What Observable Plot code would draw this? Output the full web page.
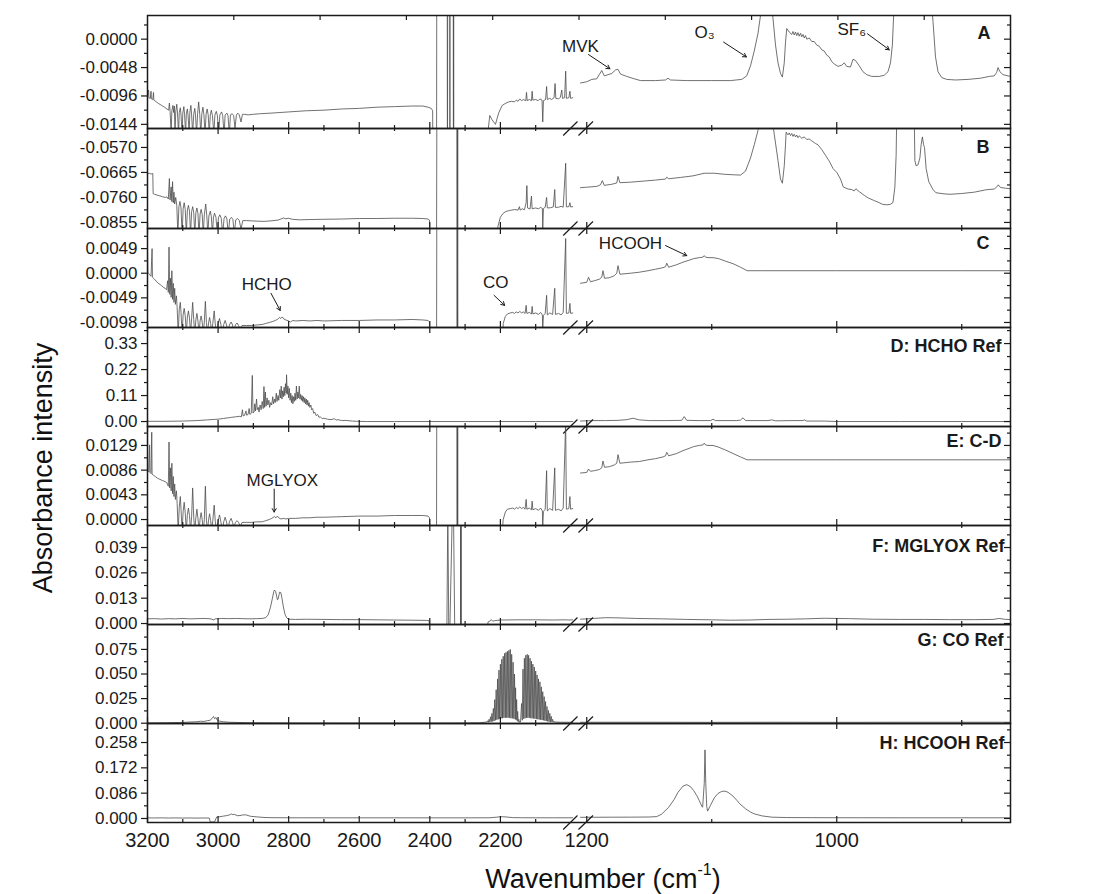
<!DOCTYPE html>
<html><head><meta charset="utf-8">
<script src="https://cdn.jsdelivr.net/npm/d3@7"></script>
<script src="https://cdn.jsdelivr.net/npm/@observablehq/plot@0.6"></script>
<style>
body{margin:0;background:#fff;}
#chart{position:relative;width:1098px;height:894px;font-family:"Liberation Sans",Arial,sans-serif;color:#111;}
#chart svg{position:absolute;left:0;overflow:visible;}
.ytitle{position:absolute;left:43px;top:468px;transform:translate(-50%,-50%) rotate(-90deg);font-size:27px;line-height:1;white-space:nowrap;}
.xtitle{position:absolute;left:603px;top:865px;transform:translateX(-50%);font-size:27px;line-height:1;white-space:nowrap;}
.xtitle sup{font-size:16px;position:relative;top:-3px;}
</style></head>
<body><div id="chart"><div class="ytitle">Absorbance intensity</div><div class="xtitle">Wavenumber (cm<sup>-1</sup>)</div></div>
<script>
// ---------------- DATA ----------------
// x tick values / labels
const X_LABELS_LEFT = [3200, 3000, 2800, 2600, 2400, 2200];
const X_LABELS_RIGHT = [1200, 1000];
const X_MAJOR = [3200, 3000, 2800, 2600, 2400, 2200, 1200, 1000];
const X_MINOR = [3100, 2900, 2700, 2500, 2300, 2100, 1100, 900];
const A_TOP_TICKS = [1, 2, 3, 4, 5, 6, 7, 8, 9];

// y ticks per panel
const A_TICKS = [0.0000, -0.0048, -0.0096, -0.0144];
const A_TICK_LABELS = ["0.0000", "-0.0048", "-0.0096", "-0.0144"];
const A_MINOR = [0.0024, -0.0024, -0.0072, -0.0120];
const B_TICKS = [-0.0570, -0.0665, -0.0760, -0.0855];
const B_TICK_LABELS = ["-0.0570", "-0.0665", "-0.0760", "-0.0855"];
const B_MINOR = [-0.05225, -0.06175, -0.07125, -0.08075];
const C_TICKS = [0.0049, 0.0000, -0.0049, -0.0098];
const C_TICK_LABELS = ["0.0049", "0.0000", "-0.0049", "-0.0098"];
const C_MINOR = [0.00735, 0.00245, -0.00245, -0.00735];
const D_TICKS = [0.33, 0.22, 0.11, 0.00];
const D_TICK_LABELS = ["0.33", "0.22", "0.11", "0.00"];
const D_MINOR = [0.385, 0.275, 0.165, 0.055];
const E_TICKS = [0.0129, 0.0086, 0.0043, 0.0000];
const E_TICK_LABELS = ["0.0129", "0.0086", "0.0043", "0.0000"];
const E_MINOR = [0.01505, 0.01075, 0.00645, 0.00215];
const F_TICKS = [0.039, 0.026, 0.013, 0.000];
const F_TICK_LABELS = ["0.039", "0.026", "0.013", "0.000"];
const F_MINOR = [0.0455, 0.0325, 0.0195, 0.0065];
const G_TICKS = [0.075, 0.050, 0.025, 0.000];
const G_TICK_LABELS = ["0.075", "0.050", "0.025", "0.000"];
const G_MINOR = [0.0875, 0.0625, 0.0375, 0.0125];
const H_TICKS = [0.258, 0.172, 0.086, 0.000];
const H_TICK_LABELS = ["0.258", "0.172", "0.086", "0.000"];
const H_MINOR = [0.301, 0.215, 0.129, 0.043];

// spectra: [wavenumber, absorbance]
const A_LEFT = [[3200,-0.0098],[3197,-0.0086],[3196,-0.0099],[3192,-0.0100],[3190,-0.0088],[3189,-0.0101],[3185,-0.0102],[3183,-0.0090],[3182,-0.0103],[3175,-0.0106],[3168,-0.0109],[3160,-0.0112],[3152,-0.0115],[3145,-0.0118],
[3140,-0.0120],[3138,-0.0108],[3136,-0.0122],[3133,-0.0160],[3131,-0.0121],[3128,-0.0112],[3126,-0.0124],[3124,-0.0113],[3122,-0.0160],[3120,-0.0123],[3117,-0.0110],[3115,-0.0125],[3112,-0.0160],[3110,-0.0124],[3107,-0.0116],[3105,-0.0128],[3102,-0.0160],[3100,-0.0125],[3097,-0.0114],[3095,-0.0127],[3092,-0.0160],[3090,-0.0126],[3087,-0.0118],[3085,-0.0129],[3082,-0.0160],[3080,-0.0124],[3077,-0.0112],[3075,-0.0128],[3072,-0.0160],[3069,-0.0127],[3066,-0.0117],[3064,-0.0128],[3061,-0.0160],[3058,-0.0126],[3055,-0.0106],[3052,-0.0127],[3049,-0.0160],[3046,-0.0126],[3043,-0.0115],[3040,-0.0128],[3037,-0.0160],[3034,-0.0127],[3031,-0.0118],[3028,-0.0128],[3025,-0.0160],[3022,-0.0128],[3019,-0.0120],[3016,-0.0129],[3012,-0.0160],[3009,-0.0128],[3005,-0.0122],[3002,-0.0129],[2998,-0.0160],[2995,-0.0128],[2990,-0.0123],[2987,-0.0129],[2983,-0.0160],[2980,-0.0128],[2975,-0.0125],[2972,-0.0129],[2968,-0.0160],[2965,-0.0128],[2960,-0.0126],[2956,-0.0129],[2952,-0.0150],[2948,-0.0128],[2944,-0.0125],[2940,-0.0128],[2935,-0.0140],[2931,-0.0127],[2925,-0.0127],[2915,-0.0128],[2900,-0.0127],[2880,-0.0126],[2850,-0.0125],[2800,-0.0123],[2750,-0.0121],[2700,-0.0120],[2650,-0.0118],[2600,-0.0117],[2550,-0.0115],[2500,-0.0114],[2450,-0.0113],[2420,-0.0113],[2405,-0.0115],[2396,-0.0117],[2392,-0.0121],[2390,-0.0300],[2381,-0.0300],[2380,0.0300],[2351,0.0300],[2350,-0.0300],[2349,0.0300],[2344,0.0300],[2343,-0.0300],[2342.5,0.0300],[2334,0.0300],[2333,-0.0300],[2332.5,0.0300],[2332,-0.0300],[2245,-0.0300],[2236,-0.0160],[2230,-0.0129],[2224,-0.0136],[2214,-0.0144],[2205,-0.0125],[2195,-0.0112],[2184,-0.0108],[2176,-0.0106],[2168,-0.0105],[2160,-0.0106],[2155,-0.0103],[2150,-0.0105],[2145,-0.0101],[2140,-0.0104],[2135,-0.0102],[2128,-0.0104],[2126,-0.0090],[2124,-0.0104],[2118,-0.0102],[2112,-0.0104],[2110,-0.0088],[2108,-0.0103],[2100,-0.0102],[2093,-0.0104],[2088,-0.0101],[2082,-0.0103],[2080,-0.0140],[2078,-0.0104],[2072,-0.0102],[2069,-0.0080],[2067,-0.0102],[2060,-0.0100],[2055,-0.0102],[2048,-0.0099],[2045,-0.0075],[2043,-0.0100],[2035,-0.0101],[2030,-0.0098],[2026,-0.0086],[2024,-0.0100],[2018,-0.0099],[2015,-0.0054],[2013,-0.0100],[2006,-0.0099],[2003,-0.0088],[2001,-0.0100],[1995,-0.0099]];
const A_RIGHT = [[1205,-0.0074],[1200,-0.0072],[1196,-0.0068],[1192,-0.0067],[1190,-0.0060],[1188,-0.0053],[1186,-0.0062],[1183,-0.0060],[1180,-0.0058],[1177,-0.0052],[1175,-0.0051],[1173,-0.0059],[1168,-0.0063],[1162,-0.0067],[1157,-0.0070],[1145,-0.0070],[1137,-0.0069],[1135,-0.0066],[1133,-0.0069],[1120,-0.0070],[1100,-0.0070],[1085,-0.0070],[1076,-0.0068],[1072,-0.0062],[1069,-0.0045],[1066,-0.0020],[1063,0.0010],[1061,0.0040],[1058,0.0080],[1053,0.0080],[1051,0.0035],[1049,-0.0010],[1047,-0.0040],[1045,-0.0058],[1043.5,-0.0064],[1042,-0.0040],[1041,-0.0005],[1040,0.0018],[1038,0.0012],[1036,0.0008],[1035,0.0013],[1034,0.0007],[1033,0.0012],[1032,0.0006],[1031,0.0011],[1030,0.0005],[1029,0.0010],[1028,0.0004],[1027,0.0008],[1026,0.0002],[1025,0.0006],[1024,0.0000],[1022,0.0002],[1020,-0.0004],[1018,-0.0004],[1016,-0.0010],[1014,-0.0012],[1012,-0.0018],[1010,-0.0020],[1008,-0.0027],[1006,-0.0030],[1004,-0.0038],[1002,-0.0042],[999,-0.0046],[996,-0.0044],[994,-0.0040],[992,-0.0046],[989,-0.0047],[987,-0.0034],[985,-0.0036],[982,-0.0045],[979,-0.0055],[976,-0.0060],[972,-0.0063],[966,-0.0063],[962,-0.0061],[959,-0.0055],[957,-0.0040],[955.5,-0.0010],[954.5,0.0040],[954,0.0080],[925,0.0080],[923,0.0030],[921,-0.0030],[919,-0.0055],[916,-0.0065],[912,-0.0068],[905,-0.0069],[895,-0.0068],[885,-0.0066],[878,-0.0063],[874,-0.0062],[872,-0.0056],[871,-0.0048],[869.5,-0.0055],[867,-0.0060],[863,-0.0062],[861,-0.0063]];

const B_LEFT = [[3200,-0.0670],[3195,-0.0668],[3190,-0.0671],[3185,-0.0669],[3184,-0.0746],[3180,-0.0748],[3173,-0.0751],[3165,-0.0754],[3158,-0.0757],[3150,-0.0760],[3145,-0.0758],[3141,-0.0766],[3138,-0.0688],[3136,-0.0770],[3133,-0.0720],[3131,-0.0776],[3129,-0.0700],[3127,-0.0780],[3125,-0.0740],[3123,-0.0785],[3120,-0.0760],[3117,-0.0790],[3114,-0.0900],[3111,-0.0795],[3108,-0.0775],[3105,-0.0800],[3102,-0.0900],[3099,-0.0803],[3096,-0.0780],[3093,-0.0806],[3090,-0.0900],[3087,-0.0808],[3084,-0.0790],[3081,-0.0812],[3078,-0.0900],[3075,-0.0814],[3072,-0.0795],[3069,-0.0818],[3066,-0.0900],[3063,-0.0818],[3060,-0.0800],[3057,-0.0822],[3054,-0.0900],[3051,-0.0823],[3048,-0.0805],[3045,-0.0826],[3042,-0.0900],[3039,-0.0826],[3035,-0.0785],[3032,-0.0830],[3029,-0.0900],[3026,-0.0830],[3022,-0.0812],[3019,-0.0834],[3016,-0.0900],[3013,-0.0834],[3010,-0.0820],[3006,-0.0836],[3002,-0.0900],[2999,-0.0837],[2995,-0.0826],[2991,-0.0839],[2987,-0.0900],[2983,-0.0840],[2979,-0.0830],[2975,-0.0842],[2971,-0.0900],[2967,-0.0842],[2962,-0.0836],[2958,-0.0844],[2954,-0.0900],[2950,-0.0845],[2945,-0.0840],[2940,-0.0847],[2935,-0.0880],[2930,-0.0848],[2920,-0.0848],[2905,-0.0849],[2890,-0.0850],[2870,-0.0851],[2850,-0.0849],[2830,-0.0846],[2822,-0.0842],[2815,-0.0838],[2808,-0.0841],[2800,-0.0839],[2790,-0.0843],[2770,-0.0845],[2740,-0.0844],[2700,-0.0843],[2650,-0.0842],[2600,-0.0840],[2550,-0.0840],[2500,-0.0839],[2450,-0.0839],[2420,-0.0840],[2405,-0.0842],[2401,-0.0846],[2399,-0.1000],[2381,-0.1000],[2380,-0.0400],[2323,-0.0400],[2322.5,-0.1000],[2322,-0.0400],[2321.5,-0.1000],[2321,-0.0400],[2320.5,-0.1000],[2212,-0.1000],[2207,-0.0870],[2200,-0.0835],[2192,-0.0820],[2184,-0.0813],[2175,-0.0810],[2168,-0.0808],[2160,-0.0806],[2150,-0.0808],[2146,-0.0795],[2144,-0.0808],[2138,-0.0803],[2132,-0.0807],[2127,-0.0780],[2125,-0.0715],[2123,-0.0800],[2116,-0.0804],[2112,-0.0755],[2110,-0.0803],[2100,-0.0800],[2092,-0.0803],[2086,-0.0798],[2081,-0.0802],[2080,-0.0880],[2078,-0.0802],[2073,-0.0797],[2069,-0.0760],[2067,-0.0800],[2058,-0.0799],[2050,-0.0796],[2046,-0.0730],[2044,-0.0798],[2035,-0.0797],[2028,-0.0794],[2022,-0.0797],[2015,-0.0630],[2013,-0.0796],[2006,-0.0795],[2003,-0.0780],[2001,-0.0796],[1995,-0.0795]];
const B_RIGHT = [[1205,-0.0723],[1200,-0.0721],[1192,-0.0718],[1189,-0.0712],[1187.5,-0.0696],[1186,-0.0714],[1180,-0.0710],[1176,-0.0705],[1175,-0.0680],[1173.5,-0.0704],[1165,-0.0702],[1155,-0.0698],[1145,-0.0694],[1137,-0.0690],[1136,-0.0683],[1134.5,-0.0689],[1125,-0.0684],[1115,-0.0678],[1106,-0.0668],[1098,-0.0668],[1090,-0.0672],[1082,-0.0674],[1077,-0.0675],[1073,-0.0660],[1069,-0.0610],[1066,-0.0560],[1063,-0.0505],[1061,-0.0450],[1052,-0.0450],[1050,-0.0520],[1047,-0.0620],[1045,-0.0690],[1043.5,-0.0706],[1042,-0.0640],[1041,-0.0560],[1040.5,-0.0512],[1039,-0.0522],[1038,-0.0515],[1037,-0.0525],[1036,-0.0517],[1035,-0.0528],[1034,-0.0520],[1033,-0.0530],[1032,-0.0523],[1031,-0.0533],[1030,-0.0526],[1028,-0.0535],[1026,-0.0530],[1024,-0.0540],[1022,-0.0538],[1020,-0.0545],[1017,-0.0555],[1015,-0.0560],[1012,-0.0578],[1009,-0.0600],[1006,-0.0622],[1003,-0.0650],[1000,-0.0665],[997,-0.0690],[994.8,-0.0720],[991,-0.0728],[988,-0.0730],[986,-0.0735],[984.7,-0.0727],[982,-0.0738],[978,-0.0752],[974.8,-0.0762],[970,-0.0772],[966,-0.0780],[963.4,-0.0786],[960,-0.0788],[957,-0.0786],[955,-0.0779],[953.5,-0.0720],[952.5,-0.0600],[952,-0.0450],[938,-0.0450],[937.5,-0.0620],[936.5,-0.0640],[935,-0.0636],[933.5,-0.0610],[932.5,-0.0560],[931.5,-0.0530],[930.5,-0.0560],[929.8,-0.0570],[928.5,-0.0650],[926.4,-0.0700],[923,-0.0730],[920.7,-0.0742],[915,-0.0746],[909.4,-0.0748],[900,-0.0745],[890,-0.0740],[880.8,-0.0731],[874,-0.0728],[871.5,-0.0718],[870.8,-0.0712],[869,-0.0722],[865,-0.0725],[861,-0.0727]];

const C_LEFT = [[3200,0.0049],[3199,0.0002],[3195,-0.0002],[3190,-0.0006],[3187,0.0049],[3186,-0.0008],[3180,-0.0012],[3175,-0.0016],[3170,-0.0020],[3165,-0.0022],[3160,-0.0025],[3155,-0.0028],[3150,-0.0030],[3146,-0.0033],[3143,-0.0015],[3141,-0.0038],[3139,0.0052],[3137,-0.0042],[3135,-0.0010],[3133,-0.0048],[3131,0.0005],[3129,-0.0052],[3127,-0.0020],[3125,-0.0058],[3123,-0.0030],[3121,-0.0062],[3118,-0.0045],[3116,-0.0068],[3113,-0.0120],[3110,-0.0072],[3107,-0.0058],[3105,-0.0078],[3102,-0.0120],[3099,-0.0082],[3096,-0.0070],[3093,-0.0085],[3090,-0.0120],[3087,-0.0087],[3084,-0.0075],[3081,-0.0089],[3078,-0.0120],[3075,-0.0090],[3072,-0.0058],[3069,-0.0092],[3066,-0.0120],[3063,-0.0093],[3060,-0.0080],[3057,-0.0095],[3054,-0.0120],[3051,-0.0095],[3048,-0.0085],[3045,-0.0097],[3042,-0.0120],[3039,-0.0097],[3036,-0.0056],[3033,-0.0098],[3030,-0.0120],[3027,-0.0099],[3024,-0.0088],[3021,-0.0100],[3018,-0.0120],[3015,-0.0100],[3011,-0.0075],[3008,-0.0101],[3004,-0.0120],[3000,-0.0101],[2996,-0.0090],[2992,-0.0102],[2988,-0.0120],[2984,-0.0102],[2980,-0.0094],[2976,-0.0103],[2972,-0.0120],[2968,-0.0103],[2963,-0.0097],[2959,-0.0103],[2955,-0.0120],[2951,-0.0103],[2946,-0.0099],[2942,-0.0104],[2937,-0.0115],[2932,-0.0104],[2920,-0.0104],[2905,-0.0104],[2890,-0.0103],[2875,-0.0102],[2865,-0.0100],[2855,-0.0098],[2845,-0.0096],[2838,-0.0094],[2832,-0.0092],[2826,-0.0088],[2822,-0.0090],[2818,-0.0087],[2814,-0.0091],[2808,-0.0093],[2800,-0.0095],[2795,-0.0097],[2788,-0.0094],[2780,-0.0095],[2760,-0.0094],[2740,-0.0095],[2720,-0.0094],[2700,-0.0095],[2650,-0.0094],[2600,-0.0094],[2550,-0.0093],[2500,-0.0093],[2450,-0.0092],[2420,-0.0093],[2405,-0.0094],[2401,-0.0097],[2399,-0.0200],[2381,-0.0200],[2380,0.0200],[2323,0.0200],[2322.5,-0.0200],[2322,0.0200],[2321.5,-0.0200],[2321,0.0200],[2320.5,-0.0200],[2196,-0.0200],[2192,-0.0100],[2186,-0.0086],[2180,-0.0081],[2172,-0.0079],[2165,-0.0078],[2160,-0.0080],[2155,-0.0077],[2150,-0.0079],[2145,-0.0076],[2140,-0.0079],[2135,-0.0077],[2130,-0.0080],[2127,-0.0064],[2125,-0.0080],[2118,-0.0078],[2112,-0.0081],[2110,-0.0066],[2108,-0.0081],[2100,-0.0079],[2092,-0.0082],[2086,-0.0078],[2081,-0.0083],[2080,-0.0110],[2078,-0.0084],[2073,-0.0080],[2069,-0.0044],[2067,-0.0083],[2060,-0.0079],[2052,-0.0082],[2046,-0.0030],[2044,-0.0082],[2035,-0.0080],[2028,-0.0083],[2022,-0.0078],[2015,0.0069],[2013,-0.0080],[2006,-0.0079],[2003,-0.0060],[2001,-0.0080],[1995,-0.0079]];
const C_RIGHT = [[1205,-0.0020],[1200,-0.0018],[1198.6,-0.0008],[1197,-0.0017],[1194,-0.0015],[1190,-0.0012],[1188,-0.0008],[1187,0.0005],[1185.8,-0.0010],[1182,-0.0009],[1178,-0.0005],[1176,0.0000],[1175,0.0015],[1173.5,-0.0002],[1165,0.0000],[1158,0.0002],[1151,0.0005],[1145,0.0008],[1139,0.0011],[1137,0.0013],[1136,0.0020],[1134.5,0.0012],[1128,0.0017],[1123,0.0022],[1118,0.0026],[1114.5,0.0029],[1110,0.0031],[1107,0.0032],[1106,0.0035],[1105,0.0032],[1103,0.0031],[1099,0.0031],[1094.5,0.0029],[1089,0.0024],[1083,0.0019],[1077,0.0012],[1071.7,0.0005],[1060,0.0005],[1000,0.0005],[900,0.0005],[861,0.0005]];

const D_LEFT = [[3200,0.001],[3150,0.001],[3100,0.002],[3060,0.004],[3030,0.007],[3011,0.009],[3000,0.010],[2985,0.013],[2970,0.016],[2961,0.018],[2950,0.020],[2940,0.022],[2934,0.020],[2931,0.050],[2929,0.024],[2925,0.026],[2921,0.045],[2919,0.027],[2915,0.030],[2912,0.055],[2910,0.030],[2906,0.035],[2903,0.195],[2901,0.036],[2898,0.040],[2896,0.075],[2894,0.045],[2891,0.095],[2889,0.050],[2886,0.060],[2884,0.040],[2881,0.070],[2878,0.050],[2875,0.085],[2872,0.055],[2870,0.148],[2868,0.060],[2866,0.125],[2864,0.065],[2861,0.100],[2859,0.070],[2856,0.090],[2854,0.060],[2851,0.080],[2848,0.070],[2845,0.105],[2843,0.075],[2840,0.095],[2838,0.080],[2835,0.120],[2833,0.085],[2830,0.110],[2828,0.090],[2825,0.135],[2823,0.100],[2821,0.150],[2819,0.095],[2817,0.130],[2815,0.105],[2813,0.145],[2811,0.110],[2809,0.160],[2807,0.120],[2806,0.198],[2804,0.115],[2802,0.150],[2800,0.100],[2798,0.140],[2796,0.090],[2794,0.120],[2792,0.080],[2790,0.110],[2788,0.075],[2786,0.105],[2784,0.085],[2782,0.120],[2780,0.090],[2778,0.150],[2776,0.095],[2774,0.125],[2772,0.100],[2770,0.150],[2768,0.095],[2766,0.115],[2764,0.090],[2762,0.110],[2760,0.085],[2758,0.105],[2756,0.080],[2754,0.100],[2752,0.075],[2750,0.095],[2748,0.070],[2746,0.090],[2744,0.065],[2742,0.080],[2740,0.060],[2737,0.070],[2735,0.050],[2732,0.055],[2729,0.035],[2726,0.040],[2722,0.025],[2718,0.030],[2714,0.018],[2710,0.020],[2705,0.012],[2700,0.014],[2690,0.010],[2680,0.008],[2670,0.012],[2666,0.006],[2660,0.008],[2650,0.004],[2640,0.005],[2620,0.002],[2607,0.001],[2580,0.000],[2500,0.000],[2400,0.000],[2300,0.000],[2200,0.000],[2100,0.000],[1995,0.000]];
const D_RIGHT = [[1205,0.002],[1195,0.004],[1185,0.004],[1175,0.005],[1168,0.008],[1163,0.014],[1158,0.007],[1150,0.004],[1135,0.004],[1124,0.005],[1122,0.021],[1120,0.005],[1110,0.004],[1101,0.004],[1099,0.010],[1097,0.004],[1080,0.004],[1077,0.006],[1075,0.016],[1073,0.004],[1055,0.004],[1052,0.007],[1049,0.003],[1035,0.004],[1027,0.004],[1026,0.007],[1024,0.002],[1010,0.002],[1000,0.000],[950,0.000],[900,0.000],[861,0.000]];

const E_LEFT = [[3200,0.0152],[3199,0.0085],[3196,0.0083],[3194,0.0130],[3193,0.0082],[3190,0.0080],[3188,0.0152],[3187,0.0079],[3183,0.0077],[3178,0.0075],[3172,0.0072],[3165,0.0070],[3158,0.0068],[3150,0.0066],[3145,0.0064],[3141,0.0058],[3139,0.0135],[3137,0.0055],[3135,0.0090],[3133,0.0050],[3131,0.0098],[3129,0.0045],[3127,0.0075],[3125,0.0040],[3123,0.0062],[3121,0.0035],[3118,0.0050],[3116,0.0028],[3113,-0.0020],[3110,0.0022],[3107,0.0040],[3105,0.0018],[3102,-0.0020],[3099,0.0014],[3096,0.0030],[3093,0.0011],[3090,-0.0020],[3087,0.0009],[3084,0.0020],[3081,0.0007],[3078,-0.0020],[3075,0.0005],[3072,0.0055],[3069,0.0004],[3066,-0.0020],[3063,0.0003],[3060,0.0018],[3057,0.0002],[3054,-0.0020],[3051,0.0001],[3048,0.0012],[3045,0.0000],[3042,-0.0020],[3039,0.0000],[3036,0.0058],[3033,-0.0001],[3030,-0.0020],[3027,-0.0001],[3024,0.0010],[3021,-0.0002],[3018,-0.0020],[3015,-0.0002],[3011,0.0025],[3008,-0.0003],[3004,-0.0020],[3000,-0.0003],[2996,0.0008],[2992,-0.0004],[2988,-0.0020],[2984,-0.0004],[2980,0.0004],[2976,-0.0004],[2972,-0.0020],[2968,-0.0004],[2963,0.0002],[2959,-0.0005],[2955,-0.0015],[2951,-0.0005],[2946,-0.0002],[2942,-0.0005],[2937,-0.0012],[2932,-0.0005],[2920,-0.0005],[2905,-0.0005],[2890,-0.0004],[2875,-0.0004],[2865,-0.0002],[2855,0.0000],[2848,0.0002],[2843,0.0004],[2840,0.0005],[2836,0.0003],[2832,0.0006],[2828,0.0003],[2822,0.0001],[2815,0.0002],[2808,0.0001],[2800,0.0002],[2780,0.0002],[2760,0.0003],[2740,0.0003],[2720,0.0004],[2700,0.0004],[2650,0.0005],[2600,0.0006],[2550,0.0006],[2500,0.0007],[2450,0.0007],[2420,0.0007],[2405,0.0006],[2401,0.0003],[2399,-0.0030],[2381,-0.0030],[2380,0.0300],[2323,0.0300],[2322.5,-0.0030],[2322,0.0300],[2321.5,-0.0030],[2321,0.0300],[2320.5,-0.0030],[2196,-0.0030],[2192,0.0000],[2186,0.0013],[2180,0.0018],[2172,0.0019],[2165,0.0020],[2160,0.0018],[2155,0.0021],[2150,0.0019],[2145,0.0022],[2140,0.0019],[2135,0.0021],[2130,0.0018],[2127,0.0035],[2125,0.0018],[2118,0.0020],[2112,0.0017],[2110,0.0032],[2108,0.0017],[2100,0.0019],[2092,0.0016],[2086,0.0020],[2081,0.0015],[2080,-0.0012],[2078,0.0014],[2073,0.0018],[2069,0.0085],[2067,0.0015],[2060,0.0019],[2052,0.0016],[2046,0.0090],[2044,0.0016],[2035,0.0018],[2028,0.0015],[2022,0.0020],[2015,0.0170],[2013,0.0018],[2006,0.0019],[2003,0.0040],[2001,0.0018],[1995,0.0019]];
const E_RIGHT = [[1205,0.0081],[1200,0.0082],[1198.6,0.0088],[1197,0.0084],[1194,0.0085],[1190,0.0087],[1188,0.0090],[1187,0.0102],[1185.8,0.0091],[1182,0.0092],[1178,0.0095],[1176,0.0098],[1175,0.0113],[1173.5,0.0098],[1165,0.0100],[1158,0.0101],[1151,0.0104],[1145,0.0106],[1139,0.0109],[1137,0.0111],[1136,0.0117],[1134.5,0.0111],[1128,0.0115],[1123,0.0120],[1118,0.0124],[1114.5,0.0127],[1110,0.0129],[1107,0.0130],[1106,0.0133],[1105,0.0130],[1103,0.0129],[1099,0.0129],[1094.5,0.0126],[1089,0.0121],[1083,0.0115],[1077,0.0109],[1071.7,0.0104],[1060,0.0104],[1000,0.0104],[900,0.0104],[861,0.0104]];

const F_LEFT = [[3200,0.0024],[3180,0.0025],[3160,0.0023],[3140,0.0025],[3120,0.0024],[3100,0.0026],[3080,0.0024],[3060,0.0025],[3040,0.0026],[3020,0.0024],[3012,0.0018],[3008,0.0024],[2990,0.0026],[2970,0.0025],[2950,0.0026],[2930,0.0025],[2910,0.0024],[2890,0.0025],[2875,0.0026],[2865,0.0030],[2858,0.0045],[2852,0.0080],[2846,0.0130],[2842,0.0165],[2840,0.0172],[2837,0.0165],[2834,0.0140],[2832,0.0122],[2830,0.0125],[2827,0.0150],[2825,0.0162],[2822,0.0158],[2819,0.0130],[2815,0.0085],[2810,0.0045],[2805,0.0028],[2800,0.0022],[2780,0.0021],[2750,0.0022],[2700,0.0021],[2650,0.0020],[2600,0.0020],[2550,0.0019],[2500,0.0018],[2450,0.0017],[2410,0.0016],[2402,0.0015],[2398,-0.0100],[2352,-0.0100],[2349,0.0600],[2346,-0.0100],[2344,-0.0100],[2336,0.0600],[2333,0.0600],[2329,-0.0100],[2313,-0.0100],[2312.5,0.0600],[2312,-0.0100],[2311.5,0.0600],[2311,-0.0100],[2240,-0.0100],[2235,0.0008],[2230,0.0012],[2226,0.0020],[2222,0.0012],[2215,0.0015],[2200,0.0018],[2150,0.0019],[2100,0.0019],[2050,0.0018],[2020,0.0019],[2000,0.0018],[1995,0.0019]];
const F_RIGHT = [[1205,0.0022],[1195,0.0026],[1185,0.0030],[1175,0.0029],[1160,0.0026],[1140,0.0024],[1120,0.0021],[1100,0.0019],[1085,0.0017],[1070,0.0018],[1055,0.0021],[1040,0.0022],[1025,0.0024],[1010,0.0027],[1000,0.0026],[990,0.0025],[970,0.0022],[950,0.0021],[930,0.0021],[910,0.0020],[890,0.0020],[875,0.0021],[870,0.0026],[866,0.0022],[861,0.0020]];

const G_LEFT = [[3200,0.0003],[3150,0.0005],[3100,0.0008],[3080,0.0012],[3060,0.0015],[3050,0.0020],[3040,0.0018],[3030,0.0026],[3022,0.0030],[3016,0.0055],[3013,0.0068],[3010,0.0045],[3006,0.0058],[3002,0.0030],[2995,0.0020],[2985,0.0015],[2970,0.0010],[2950,0.0008],[2920,0.0005],[2900,0.0004],[2800,0.0002],[2600,0.0001],[2400,0.0001],[2300,0.0002],[2260,0.0004],[2245,0.0010],
[2238,0.0012],[2236,0.0025],[2234,0.0010],[2232,0.0040],[2230,0.0012],[2228,0.0065],[2226,0.0015],[2224,0.0100],[2222,0.0018],[2220,0.0150],[2218,0.0022],[2216,0.0240],[2214,0.0030],[2212,0.0340],[2210,0.0035],[2208,0.0450],[2206,0.0040],[2204,0.0540],[2202,0.0045],[2200,0.0600],[2198,0.0050],[2196,0.0650],[2194,0.0050],[2192,0.0680],[2190,0.0055],[2188,0.0710],[2186,0.0055],[2184,0.0720],[2182,0.0055],[2180,0.0730],[2178,0.0055],[2176,0.0740],[2174,0.0055],[2172,0.0750],[2170,0.0050],[2168,0.0700],[2166,0.0050],[2164,0.0620],[2162,0.0045],[2160,0.0500],[2158,0.0040],[2157,0.0360],[2155.5,0.0035],[2154,0.0240],[2152.5,0.0025],[2151,0.0120],[2149.5,0.0015],[2148,0.0040],[2146,0.0010],
[2143,0.0012],[2140,0.0200],[2138,0.0030],[2136,0.0550],[2134,0.0045],[2132,0.0660],[2130,0.0050],[2128,0.0690],[2126,0.0055],[2124,0.0700],[2122,0.0055],[2120,0.0690],[2118,0.0055],[2116,0.0660],[2114,0.0050],[2112,0.0630],[2110,0.0050],[2108,0.0600],[2106,0.0048],[2104,0.0570],[2102,0.0045],[2100,0.0530],[2098,0.0042],[2096,0.0490],[2094,0.0040],[2092,0.0450],[2090,0.0038],[2088,0.0420],[2086,0.0035],[2084,0.0370],[2082,0.0032],[2080,0.0320],[2078,0.0030],[2076,0.0270],[2074,0.0026],[2072,0.0220],[2070,0.0022],[2068,0.0170],[2066,0.0018],[2064,0.0130],[2062,0.0015],[2060,0.0100],[2058,0.0013],[2056,0.0070],[2054,0.0012],[2052,0.0040],[2050,0.0011],[2048,0.0020],[2046,0.0010],[2044,0.0012],[2030,0.0010],[2000,0.0010],[1995,0.0010]];
const G_RIGHT = [[1205,0.0010],[1150,0.0010],[1100,0.0009],[1050,0.0010],[1000,0.0009],[950,0.0010],[900,0.0010],[861,0.0010]];

const H_LEFT = [[3200,0.0020],[3180,0.0018],[3160,0.0022],[3140,0.0016],[3120,0.0020],[3100,0.0015],[3080,0.0018],[3060,0.0014],[3040,0.0017],[3025,0.0015],[3022,-0.0120],[3010,-0.0115],[3004,0.0050],[2995,0.0060],[2985,0.0080],[2975,0.0100],[2968,0.0120],[2962,0.0155],[2958,0.0130],[2953,0.0140],[2946,0.0095],[2938,0.0100],[2930,0.0120],[2922,0.0125],[2915,0.0100],[2908,0.0075],[2890,0.0055],[2870,0.0035],[2850,0.0028],[2800,0.0024],[2700,0.0023],[2600,0.0023],[2500,0.0023],[2400,0.0022],[2300,0.0022],[2230,0.0025],[2210,0.0045],[2200,0.0060],[2190,0.0058],[2178,0.0045],[2165,0.0030],[2140,0.0025],[2100,0.0024],[2050,0.0024],[1995,0.0024]];
const H_RIGHT = [[1205,0.0040],[1195,0.0042],[1180,0.0044],[1165,0.0046],[1150,0.0050],[1144,0.0065],[1140,0.0150],[1134.5,0.0380],[1130,0.0650],[1127,0.0890],[1123,0.1100],[1120,0.1150],[1117,0.1080],[1114.5,0.0950],[1112,0.0780],[1110,0.0610],[1108,0.0420],[1107.3,0.0384],[1106,0.1200],[1105.4,0.2330],[1104.8,0.1200],[1104,0.0400],[1103.3,0.0250],[1101,0.0450],[1098,0.0700],[1095,0.0850],[1092,0.0920],[1089.4,0.0930],[1087,0.0890],[1083,0.0760],[1080,0.0620],[1077.6,0.0500],[1073,0.0330],[1069,0.0220],[1066,0.0159],[1060,0.0090],[1052,0.0045],[1040,0.0032],[1020,0.0028],[1000,0.0026],[980,0.0025],[950,0.0024],[900,0.0024],[861,0.0024]];

// annotations: text labels and arrows (data coordinates)
const A_NOTES = [{text: "MVK", x: 1205, y: -0.0012}, {text: "O\u2083", x: 1105.7, y: 0.0011}, {text: "SF\u2086", x: 988, y: 0.0016}];
const A_ARROWS = [{x1: 1198.6, y1: -0.0026, x2: 1181.5, y2: -0.0050}, {x1: 1090.5, y1: -0.0005, x2: 1072.3, y2: -0.0030}, {x1: 975.4, y1: 0.0009, x2: 958, y2: -0.0018}];
const C_NOTES = [{text: "HCHO", x: 2862, y: -0.0023}, {text: "CO", x: 2213, y: -0.0018}, {text: "HCOOH", x: 1165, y: 0.0060}];
const C_ARROWS = [{x1: 2850, y1: -0.0040, x2: 2824, y2: -0.0074}, {x1: 2218, y1: -0.0044, x2: 2188, y2: -0.0064}, {x1: 1137, y1: 0.0055, x2: 1120, y2: 0.0035}];
const E_NOTES = [{text: "MGLYOX", x: 2818, y: 0.0068}];
const E_ARROWS = [{x1: 2841, y1: 0.0053, x2: 2841, y2: 0.0013}];

// break-mark slashes (wavenumber ends, across the axis gap)
const BREAK_SLASHES = [{xa: 2022, xb: 1600}, {xa: 1470, xb: 1195}];

// ---------------- LAYOUT ----------------
const XD = [3200, 1990, 1205, 861];          // broken x axis: left piece, gap, right piece
const XR = [147, 574, 580, 1010];
const INK = "#1a1a1a", LINE = "#4d4d4d";
const FONT = "'Liberation Sans', Arial, sans-serif";

const PANELS = [
  {label: "A", top: 15, h: 113, dom: [-0.0151, 0.0040], ticks: A_TICKS, lab: A_TICK_LABELS, minor: A_MINOR, left: A_LEFT, right: A_RIGHT, ldx: -20, ldy: 18, notes: A_NOTES, arrows: A_ARROWS},
  {label: "B", top: 128, h: 100, dom: [-0.0878, -0.0498], ticks: B_TICKS, lab: B_TICK_LABELS, minor: B_MINOR, left: B_LEFT, right: B_RIGHT, ldx: -21, ldy: 19},
  {label: "C", top: 228, h: 99, dom: [-0.0108, 0.0089], ticks: C_TICKS, lab: C_TICK_LABELS, minor: C_MINOR, left: C_LEFT, right: C_RIGHT, ldx: -21, ldy: 15, notes: C_NOTES, arrows: C_ARROWS},
  {label: "D: HCHO Ref", top: 327, h: 99, dom: [-0.021, 0.398], ticks: D_TICKS, lab: D_TICK_LABELS, minor: D_MINOR, left: D_LEFT, right: D_RIGHT, ldx: -9, ldy: 19},
  {label: "E: C-D", top: 426, h: 99, dom: [-0.00104, 0.0162], ticks: E_TICKS, lab: E_TICK_LABELS, minor: E_MINOR, left: E_LEFT, right: E_RIGHT, ldx: -9, ldy: 15, notes: E_NOTES, arrows: E_ARROWS},
  {label: "F: MGLYOX Ref", top: 525, h: 99, dom: [-0.0005, 0.0503], ticks: F_TICKS, lab: F_TICK_LABELS, minor: F_MINOR, left: F_LEFT, right: F_RIGHT, ldx: -6, ldy: 21},
  {label: "G: CO Ref", top: 624, h: 99, dom: [-0.0003, 0.1003], ticks: G_TICKS, lab: G_TICK_LABELS, minor: G_MINOR, left: G_LEFT, right: G_RIGHT, ldx: -7, ldy: 16},
  {label: "H: HCOOH Ref", top: 723, h: 99, dom: [-0.0136, 0.3226], ticks: H_TICKS, lab: H_TICK_LABELS, minor: H_MINOR, left: H_LEFT, right: H_RIGHT, ldx: -6, ldy: 20}
];

const chart = document.getElementById("chart");

function buildPanel(p, idx) {
  const [y0, y1] = p.dom;
  const inDom = v => v >= y0 && v <= y1;
  const slashD = 7 * (y1 - y0) / p.h;
  const isLast = idx === PANELS.length - 1;
  const tickStyle = {stroke: INK, strokeWidth: 1.2};
  const marks = [
    Plot.line(p.left, {x: d => d[0], y: d => d[1], stroke: LINE, strokeWidth: 0.8, clip: true}),
    Plot.line(p.right, {x: d => d[0], y: d => d[1], stroke: LINE, strokeWidth: 0.8, clip: true}),
    Plot.frame({stroke: INK, strokeWidth: 1.5}),
    // y ticks: left outward, right inward
    Plot.ruleY(p.ticks, {y: d => d, x1: XD[0], x2: XD[0], insetLeft: -6, ...tickStyle}),
    Plot.ruleY(p.minor.filter(inDom), {y: d => d, x1: XD[0], x2: XD[0], insetLeft: -3, ...tickStyle}),
    Plot.ruleY(p.ticks, {y: d => d, x1: XD[3], x2: XD[3], insetLeft: -6, ...tickStyle}),
    Plot.ruleY(p.minor.filter(inDom), {y: d => d, x1: XD[3], x2: XD[3], insetLeft: -3, ...tickStyle}),
    // x ticks on bottom (pointing up)
    Plot.ruleX(X_MAJOR, {x: d => d, y1: y0, y2: y0, insetTop: -6, ...tickStyle}),
    Plot.ruleX(X_MINOR, {x: d => d, y1: y0, y2: y0, insetTop: -3, ...tickStyle}),
    // y tick labels
    Plot.text(p.ticks, {x: () => XD[0], y: d => d, text: (d, i) => p.lab[i], dx: -10, textAnchor: "end", fontSize: 17, fill: INK}),
    // panel label
    Plot.text([p.label], {text: d => d, frameAnchor: "top-right", dx: p.ldx, dy: p.ldy, lineAnchor: "middle", textAnchor: "end", fontSize: 18, fontWeight: "bold", fill: INK}),
    // break slashes on bottom border
    Plot.link(BREAK_SLASHES, {x1: d => d.xa, x2: d => d.xb, y1: () => y0 - slashD, y2: () => y0 + slashD, stroke: INK, strokeWidth: 1.2})
  ];
  if (idx > 0) {
    // x ticks on top (pointing down)
    marks.push(Plot.ruleX(X_MAJOR, {x: d => d, y1: y1, y2: y1, insetBottom: -6, ...tickStyle}));
    marks.push(Plot.ruleX(X_MINOR, {x: d => d, y1: y1, y2: y1, insetBottom: -3, ...tickStyle}));
  }
  if (p.notes) {
    marks.push(Plot.text(p.notes, {x: "x", y: "y", text: "text", fontSize: 17, fill: INK, textAnchor: "middle", lineAnchor: "middle"}));
    marks.push(Plot.arrow(p.arrows, {x1: "x1", y1: "y1", x2: "x2", y2: "y2", stroke: INK, strokeWidth: 1, headLength: 6}));
  }
  if (isLast) {
    marks.push(Plot.text(X_LABELS_LEFT.concat(X_LABELS_RIGHT), {x: d => d, y: () => y0, text: d => String(d), dy: 18, lineAnchor: "middle", fontSize: 20, fill: INK}));
  }
  const svg = Plot.plot({
    width: 1098, height: p.h,
    marginTop: 0, marginBottom: 0, marginLeft: 147, marginRight: 88,
    style: {background: "transparent", overflow: "visible", fontFamily: FONT, maxWidth: "none"},
    x: {type: "linear", domain: XD, range: XR, axis: null},
    y: {domain: p.dom, axis: null},
    marks
  });
  svg.style.top = p.top + "px";
  chart.appendChild(svg);
}

PANELS.forEach(buildPanel);

// Panel A has its own top axis with ten equal divisions
const aTop = Plot.plot({
  width: 1098, height: PANELS[0].h,
  marginTop: 0, marginBottom: 0, marginLeft: 147, marginRight: 88,
  style: {background: "transparent", overflow: "visible", maxWidth: "none"},
  x: {domain: [0, 10], range: [147, 1010], axis: null},
  y: {domain: [0, 1], axis: null},
  marks: [Plot.ruleX(A_TOP_TICKS, {x: d => d, y1: 1, y2: 1, insetBottom: -5, stroke: INK, strokeWidth: 1.2})]
});
aTop.style.top = PANELS[0].top + "px";
chart.appendChild(aTop);
</script>
</body></html>
